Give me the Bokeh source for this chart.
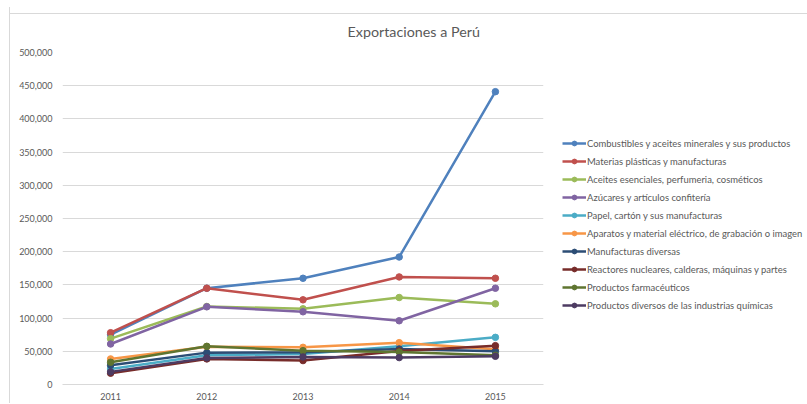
from bokeh.plotting import figure
from bokeh.models import Legend, LegendItem, Title, NumeralTickFormatter, FixedTicker, Range1d
from bokeh.embed import file_html
from bokeh.resources import INLINE

years = ["2011", "2012", "2013", "2014", "2015"]
names = [
    "Combustibles y aceites minerales y sus productos",
    "Materias plásticas y manufacturas",
    "Aceites esenciales, perfumeria, cosméticos",
    "Azúcares y artículos confitería",
    "Papel, cartón y sus manufacturas",
    "Aparatos y material eléctrico, de grabación o imagen",
    "Manufacturas diversas",
    "Reactores nucleares, calderas, máquinas y partes",
    "Productos farmacéuticos",
    "Productos diversos de las industrias químicas",
]
combustibles = [75000, 145000, 160000, 192000, 441000]
materias = [78000, 145000, 127500, 162000, 160000]
aceites = [69000, 117500, 114000, 131000, 121500]
azucares = [61000, 117000, 109500, 96000, 145000]
papel = [23500, 44000, 46000, 57500, 71000]
aparatos = [38500, 57000, 56000, 63000, 53000]
manufacturas = [29000, 48000, 48500, 53500, 50000]
reactores = [17000, 38500, 36000, 50500, 58500]
farmaceuticos = [33500, 57500, 51000, 49000, 44000]
productos_div = [19000, 40000, 41500, 40500, 42500]
series = [combustibles, materias, aceites, azucares, papel, aparatos,
          manufacturas, reactores, farmaceuticos, productos_div]
colors = ["#4F81BD", "#C0504D", "#9BBB59", "#8064A2", "#4BACC6", "#F79646",
          "#2C4D75", "#772C2A", "#5F7530", "#4D3B62"]
yticks = list(range(0, 500001, 50000))

FONT = "Lato"
GRAY = "#595959"

p = figure(x_range=years, y_range=Range1d(0, 500000), frame_width=481, frame_height=332,
           output_backend="svg", toolbar_location=None,
           min_border_left=52, min_border_top=45, min_border_bottom=19, min_border_right=0)
p.outline_line_color = None
p.background_fill_color = "white"
p.border_fill_color = None

items = []
for name, vals, c in zip(names, series, colors):
    r1 = p.line(years, vals, line_color=c, line_width=2.5)
    r2 = p.scatter(years, vals, marker="circle", size=6.5, fill_color=c, line_color=c)
    items.append(LegendItem(label=name, renderers=[r1, r2]))

legend = Legend(items=items, location=(19, 73), ncols=1, border_line_color=None,
                background_fill_alpha=0, label_text_font=FONT, label_text_font_size="9.45px",
                label_text_color=GRAY, glyph_width=24, glyph_height=12, label_height=12,
                spacing=6, padding=0, margin=0, label_standoff=1)
p.add_layout(legend, "right")

p.yaxis.ticker = FixedTicker(ticks=yticks)
p.yaxis.formatter = NumeralTickFormatter(format="0,0")
p.yaxis.axis_line_color = None
p.yaxis.major_tick_line_color = None
p.yaxis.minor_tick_line_color = None
p.yaxis.major_tick_out = 0
p.yaxis.major_label_text_font = FONT
p.yaxis.major_label_text_font_size = "9px"
p.yaxis.major_label_text_color = GRAY
p.yaxis.major_label_standoff = 10

p.xaxis.axis_line_color = "#d9d9d9"
p.xaxis.major_tick_line_color = None
p.xaxis.minor_tick_line_color = None
p.xaxis.major_tick_out = 0
p.xaxis.major_label_text_font = FONT
p.xaxis.major_label_text_font_size = "9px"
p.xaxis.major_label_text_color = GRAY
p.xaxis.major_label_standoff = 8

p.xgrid.grid_line_color = None
p.ygrid.grid_line_color = "#d9d9d9"
p.ygrid.grid_line_width = 1

title = Title(text="Exportaciones a Perú", align="left", offset=285,
              text_font=FONT, text_font_size="14.3px", text_font_style="normal",
              text_color=GRAY, standoff=25)
p.add_layout(title, "above")

p.styles = {"border-left": "1px solid #d9d9d9",
            "margin-top": "7px", "margin-left": "9px",
            "background-color": "white",
            "background-image": "linear-gradient(#d9d9d9, #d9d9d9)",
            "background-repeat": "no-repeat",
            "background-size": "100% 1px",
            "background-position": "0 6px"}

open("out.html", "w").write(file_html(p, INLINE))
